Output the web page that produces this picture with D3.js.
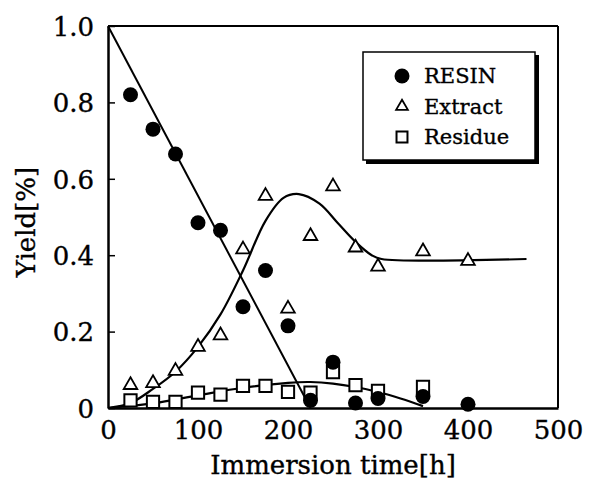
<!DOCTYPE html>
<html><head><meta charset="utf-8">
<script src="https://cdn.jsdelivr.net/npm/d3@7"></script>
<style>body{margin:0;background:#fff}svg{display:block}text{font-family:"DejaVu Serif",serif;fill:#000;stroke:#000;stroke-width:0.35px}</style>
</head><body><svg id="c" width="601" height="481"></svg>
<script>
// ---- data ----
const times   = [25,50,75,100,125,150,175,200,225,250,275,300,350,400];
const resin   = [0.82,0.73,0.665,0.485,0.465,0.265,0.36,0.215,0.02,0.12,0.013,0.025,0.03,0.01];
const extract = [0.06,0.065,0.097,0.16,0.19,0.415,0.555,0.26,0.45,0.58,0.42,0.37,0.41,0.385];
const residue = [0.02,0.016,0.016,0.04,0.035,0.058,0.058,0.042,0.04,0.094,0.06,0.045,0.055,null];

const resinFitT = [0,225];
const resinFitV = [1.0,0.0];
const extractFitT = [0,25,50,75,100,125,150,175,195,212,235,255,275,293,304,465];
const extractFitV = [0,0.013,0.05,0.095,0.16,0.245,0.36,0.49,0.55,0.56,0.535,0.485,0.435,0.40,0.39,0.39];
const residueFitT = [0,50,100,150,200,225,250,275,300,325,350];
const residueFitV = [0,0.012,0.033,0.053,0.066,0.068,0.064,0.055,0.042,0.025,0.005];

const xTicks = [0,100,200,300,400,500];
const yTicks = [0,0.2,0.4,0.6,0.8,1.0];
const legendLabels = ["RESIN","Extract","Residue"];

// ---- layout ----
const L=108,R=558,T=26,B=408;
const svg=d3.select("#c");
const x=d3.scaleLinear().domain([0,500]).range([L,R]);
const y=d3.scaleLinear().domain([0,1]).range([B,T]);

// frame
svg.append("line").attr("x1",L).attr("x2",R).attr("y1",T).attr("y2",T).attr("stroke","#000").attr("stroke-width",2);
svg.append("line").attr("x1",R).attr("x2",R).attr("y1",T).attr("y2",B).attr("stroke","#000").attr("stroke-width",2);

// axes
const ya=svg.append("g").attr("transform",`translate(${L},0)`)
  .call(d3.axisLeft(y).tickValues(yTicks).tickSizeInner(-7).tickSizeOuter(0).tickPadding(14)
    .tickFormat(d=>d===0?"0":d3.format(".1f")(d)));
const xa=svg.append("g").attr("transform",`translate(0,${B})`)
  .call(d3.axisBottom(x).tickValues(xTicks).tickSizeInner(0).tickSizeOuter(0).tickPadding(10));
[ya,xa].forEach(g=>{
  g.select(".domain").attr("stroke","#000").attr("stroke-width",2.5);
  g.selectAll(".tick line").attr("stroke","#000").attr("stroke-width",1.5);
  g.selectAll("text").style("font-family","'DejaVu Serif',serif").style("font-size","26px").attr("fill","#000");
});
ya.selectAll("text").attr("dy","0.36em");
xa.selectAll("text").attr("dy","0.8em");

// titles
svg.append("text").attr("x",(L+R)/2).attr("y",474).attr("text-anchor","middle")
  .style("font-size","26px").text("Immersion time[h]");
svg.append("text").attr("transform",`translate(35,222) rotate(-90)`).attr("text-anchor","middle")
  .style("font-size","26px").text("Yield[%]");

// fit lines
const line=d3.line().x(d=>x(d[0])).y(d=>y(d[1]));
const smooth=d3.line().x(d=>x(d[0])).y(d=>y(d[1])).curve(d3.curveCatmullRom.alpha(0.5));
svg.append("path").attr("d",line(d3.zip(resinFitT,resinFitV))).attr("fill","none").attr("stroke","#000").attr("stroke-width",2);
svg.append("path").attr("d",smooth(d3.zip(extractFitT,extractFitV))).attr("fill","none").attr("stroke","#000").attr("stroke-width",2.2);
svg.append("path").attr("d",smooth(d3.zip(residueFitT,residueFitV))).attr("fill","none").attr("stroke","#000").attr("stroke-width",2.2);

// markers
const sq=d3.symbol().type(d3.symbolSquare).size(150);
const tri=d3.symbol().type(d3.symbolTriangle).size(80);
const pts=(vals)=>times.map((t,i)=>[t,vals[i]]).filter(d=>d[1]!=null);
svg.append("g").selectAll("path").data(pts(residue)).join("path")
  .attr("d",sq).attr("transform",d=>`translate(${x(d[0])},${y(d[1])})`)
  .attr("fill","#fff").attr("stroke","#000").attr("stroke-width",2);
svg.append("g").selectAll("path").data(pts(extract)).join("path")
  .attr("d",tri).attr("transform",d=>`translate(${x(d[0])},${y(d[1])})`)
  .attr("fill","#fff").attr("stroke","#000").attr("stroke-width",1.8);
svg.append("g").selectAll("circle").data(pts(resin)).join("circle")
  .attr("cx",d=>x(d[0])).attr("cy",d=>y(d[1])).attr("r",7.5).attr("fill","#000");

// legend
const lg=svg.append("g");
lg.append("rect").attr("x",366).attr("y",55).attr("width",173).attr("height",109).attr("fill","#000");
lg.append("rect").attr("x",363).attr("y",52).attr("width",172).attr("height",108).attr("fill","#fff").attr("stroke","#000").attr("stroke-width",1.5);
const symbols=[
  g=>g.append("circle").attr("r",7.5).attr("fill","#000"),
  g=>g.append("path").attr("d",d3.symbol().type(d3.symbolTriangle).size(60)).attr("fill","#fff").attr("stroke","#000").attr("stroke-width",1.8),
  g=>g.append("path").attr("d",d3.symbol().type(d3.symbolSquare).size(120)).attr("fill","#fff").attr("stroke","#000").attr("stroke-width",2)
];
legendLabels.forEach((lab,i)=>{
  const yy=76+i*30.5;
  const g=lg.append("g").attr("transform",`translate(402,${yy})`);
  symbols[i](g);
  lg.append("text").attr("x",424).attr("y",yy).attr("dy","0.35em").style("font-size","21px").text(lab);
});
</script></body></html>
